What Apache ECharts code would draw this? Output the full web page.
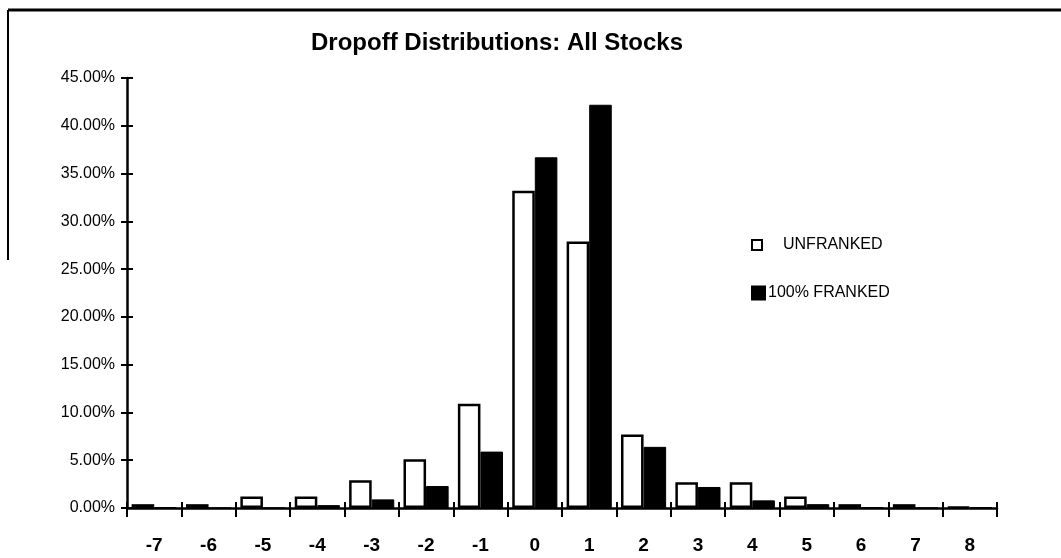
<!DOCTYPE html>
<html>
<head>
<meta charset="utf-8">
<script src="https://cdn.jsdelivr.net/npm/echarts@6/dist/echarts.min.js"></script>
<style>
html,body{margin:0;padding:0;background:#fff;}
#chart{width:1061px;height:558px;}
</style>
</head>
<body>
<div id="chart"></div>
<script>
var categories = ['-7','-6','-5','-4','-3','-2','-1','0','1','2','3','4','5','6','7','8'];
var unfranked = [0.4,0.4,1.2,1.2,2.9,5.1,10.9,33.2,27.9,7.7,2.7,2.7,1.2,0.4,0.4,0.1];
var franked100 = [0.1,0,0,0.3,0.9,2.3,5.9,36.7,42.2,6.4,2.2,0.8,0.4,0.1,0,0.1];
var titleText = 'Dropoff Distributions: All Stocks';
var seriesNames = ['UNFRANKED','100% FRANKED'];

var chart = echarts.init(document.getElementById('chart'));
var fontFam = 'Liberation Sans, Arial, sans-serif';
chart.setOption({
  animation:false,
  backgroundColor:'#fff',
  title:{text:titleText,left:492,textAlign:'center',top:26,
    textStyle:{fontFamily:fontFam,fontSize:24,fontWeight:'bold',color:'#000'}},
  legend:[
    {data:[seriesNames[0]],icon:'rect',left:746,top:232,itemWidth:10,itemHeight:10,
     textStyle:{fontFamily:fontFam,fontSize:16,color:'#000',padding:[0,0,0,16]}},
    {data:[seriesNames[1]],icon:'rect',left:746,top:280,itemWidth:13,itemHeight:13,
     textStyle:{fontFamily:fontFam,fontSize:16,color:'#000',padding:[0,0,0,-2]}}
  ],
  grid:{left:127,right:64,top:78,bottom:50,containLabel:false},
  xAxis:[
    {type:'category',data:categories,boundaryGap:true,
     axisLine:{lineStyle:{color:'#000',width:2.5}},
     axisTick:{show:true,interval:0,length:9,lineStyle:{color:'#000',width:2}},
     axisLabel:{interval:0,margin:28,fontFamily:fontFam,fontSize:19,fontWeight:'bold',color:'#000'},
     splitLine:{show:false}},
    {type:'category',data:categories,position:'bottom',boundaryGap:true,
     axisLine:{show:false},
     axisTick:{show:true,inside:true,interval:0,length:6,lineStyle:{color:'#000',width:2}},
     axisLabel:{show:false},splitLine:{show:false}}
  ],
  yAxis:[
    {type:'value',min:0,max:45,interval:5,
     axisLine:{show:true,lineStyle:{color:'#000',width:2.5}},
     axisTick:{show:true,length:6,lineStyle:{color:'#000',width:2}},
     axisLabel:{margin:12,fontFamily:fontFam,fontSize:16,color:'#000',
       formatter:function(v){return v.toFixed(2)+'%';}},
     splitLine:{show:false}},
    {type:'value',min:0,max:45,interval:5,position:'left',
     axisLine:{show:false},
     axisTick:{show:true,inside:true,length:6,lineStyle:{color:'#000',width:2}},
     axisLabel:{show:false},splitLine:{show:false}}
  ],
  series:[
    {name:seriesNames[0],type:'bar',data:unfranked,barGap:'0%',barCategoryGap:'17%',
     itemStyle:{color:'#fff',borderColor:'#000',borderWidth:2.5}},
    {name:seriesNames[1],type:'bar',data:franked100,barGap:'0%',barCategoryGap:'17%',
     itemStyle:{color:'#000',borderColor:'#000',borderWidth:1}}
  ],
  graphic:[
    {type:'line',shape:{x1:8,y1:10,x2:1061,y2:10},style:{stroke:'#000',lineWidth:3}},
    {type:'line',shape:{x1:8,y1:10,x2:8,y2:260},style:{stroke:'#000',lineWidth:2}}
  ]
});
</script>
</body>
</html>
